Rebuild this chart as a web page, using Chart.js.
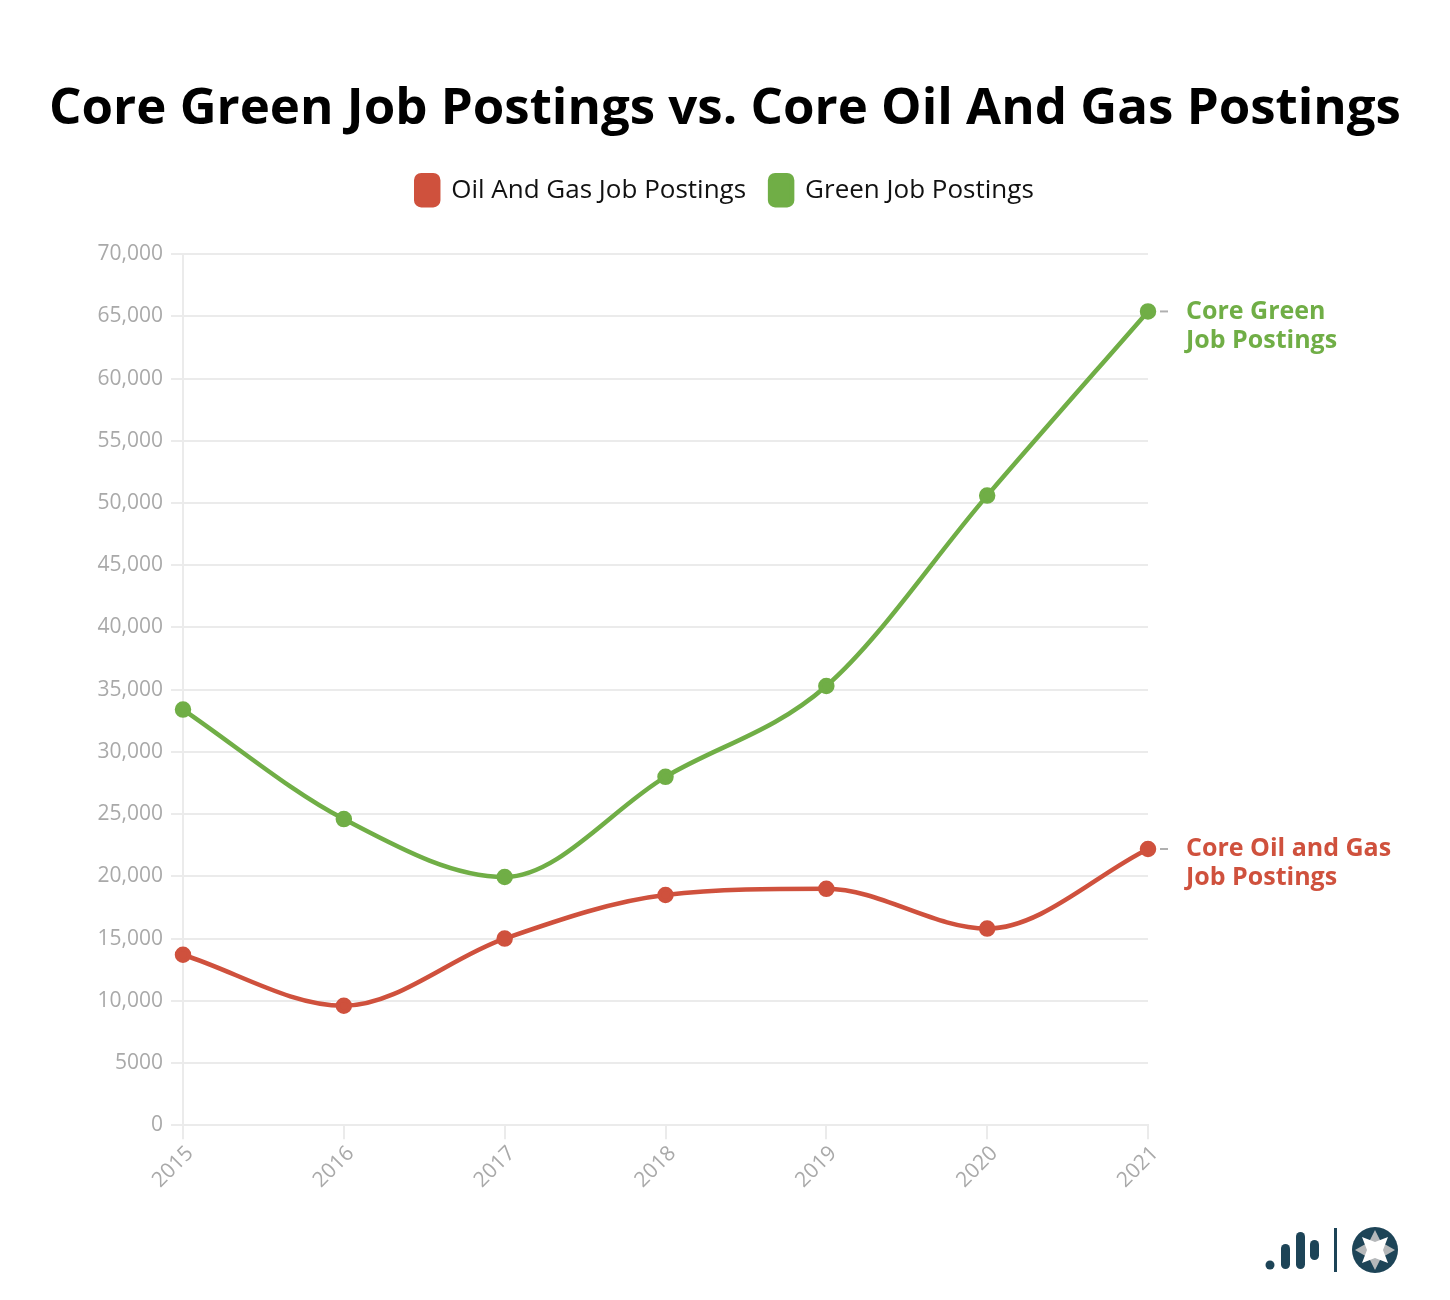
<!DOCTYPE html>
<html>
<head>
<meta charset="utf-8">
<script src="https://cdn.jsdelivr.net/npm/chart.js@4"></script>
<style>
  html, body { margin: 0; padding: 0; background: #fff; }
  #wrap { position: relative; width: 1450px; height: 1300px; }
  #logo { position: absolute; left: 1258px; top: 1222px; }
</style>
</head>
<body>
<div id="wrap">
  <canvas id="c" width="1450" height="1300"></canvas>
  <svg id="logo" width="150" height="60" viewBox="0 0 150 60">
    <circle cx="12" cy="43" r="4.5" fill="#1d4457"/>
    <rect x="23" y="22" width="9" height="25" rx="4.5" fill="#1d4457"/>
    <rect x="38" y="10" width="9" height="37" rx="4.5" fill="#1d4457"/>
    <rect x="52" y="18" width="9" height="20" rx="4.5" fill="#1d4457"/>
    <rect x="76" y="6" width="3" height="44" fill="#1d4457"/>
    <circle cx="117" cy="28" r="23" fill="#1d4457"/>
    <polygon points="117,8 123,20 137,28 123,36 117,48 111,36 97,28 111,20" fill="#b5b8ba"/>
    <polygon points="104,15 117,20 130,15 125,28 130,41 117,36 104,41 109,28" fill="#fff"/>
  </svg>
</div>
<script>
const years = ['2015', '2016', '2017', '2018', '2019', '2020', '2021'];
const oilGasPostings = [13700, 9600, 15000, 18500, 19000, 15800, 22200];
const greenPostings = [33400, 24600, 19950, 28000, 35300, 50600, 65400];
const seriesNames = ['Oil And Gas Job Postings', 'Green Job Postings'];
const endLabels = [['Core Oil and Gas', 'Job Postings'], ['Core Green', 'Job Postings']];
const yTicksMax = 70000;
const yTickStep = 5000;

const RED = '#cf513d';
const GREEN = '#70ae46';
const FONT = '"Open Sans", Lato, sans-serif';

const legendMargin = {
  id: 'legendMargin',
  beforeInit(chart) {
    const legend = chart.legend;
    if (!legend) return;
    const origFit = legend.fit;
    legend.fit = function () {
      origFit.bind(legend)();
      this.height += 39;
    };
  }
};

const endLabelPlugin = {
  id: 'endLabels',
  afterDatasetsDraw(chart) {
    const ctx = chart.ctx;
    chart.data.datasets.forEach((ds, i) => {
      const meta = chart.getDatasetMeta(i);
      const pt = meta.data[meta.data.length - 1];
      if (!pt) return;
      const x = pt.x, y = pt.y;
      ctx.save();
      ctx.strokeStyle = '#b0b0b0';
      ctx.lineWidth = 2;
      ctx.beginPath();
      ctx.moveTo(x + 12, y);
      ctx.lineTo(x + 20, y);
      ctx.stroke();
      ctx.fillStyle = ds.borderColor;
      ctx.font = 'bold 25px ' + FONT;
      ctx.textAlign = 'left';
      ctx.textBaseline = 'middle';
      endLabels[i].forEach((line, k) => {
        ctx.fillText(line, x + 38, y + k * 29);
      });
      ctx.restore();
    });
  }
};

new Chart(document.getElementById('c'), {
  type: 'line',
  data: {
    labels: years,
    datasets: [
      {
        label: seriesNames[0],
        data: oilGasPostings,
        borderColor: RED,
        backgroundColor: RED,
        borderWidth: 4.5,
        pointRadius: 6,
        pointHoverRadius: 6,
        cubicInterpolationMode: 'monotone',
        fill: false,
        yAxisID: 'y'
      },
      {
        label: seriesNames[1],
        data: greenPostings,
        borderColor: GREEN,
        backgroundColor: GREEN,
        borderWidth: 4.5,
        pointRadius: 6,
        pointHoverRadius: 6,
        cubicInterpolationMode: 'monotone',
        fill: false,
        yAxisID: 'y'
      }
    ]
  },
  options: {
    responsive: false,
    animation: false,
    devicePixelRatio: 1,
    layout: { padding: { left: 0, right: 0, top: 0, bottom: 105 } },
    plugins: {
      tooltip: { enabled: false },
      title: {
        display: true,
        text: 'Core Green Job Postings vs. Core Oil And Gas Postings',
        color: '#000',
        font: { family: FONT, size: 51, weight: 'bold' },
        padding: { top: 79, bottom: 11 }
      },
      legend: {
        display: true,
        position: 'top',
        labels: {
          color: '#111',
          font: { family: FONT, size: 26 },
          boxWidth: 22,
          boxHeight: 30,
          useBorderRadius: true,
          borderRadius: 5,
          padding: 24
        }
      }
    },
    scales: {
      x: {
        offset: false,
        grid: { color: '#ebebeb', lineWidth: 2, drawOnChartArea: false, drawTicks: true, tickLength: 14 },
        border: { color: '#ebebeb', width: 2 },
        ticks: {
          color: '#a9a9a9',
          font: { family: FONT, size: 21 },
          minRotation: 45,
          maxRotation: 45,
          padding: 2,
          labelOffset: 7
        }
      },
      y: {
        position: 'left',
        min: 0,
        max: yTicksMax,
        afterFit: s => { s.width = 183; },
        grid: { color: '#ebebeb', lineWidth: 2, tickLength: 12 },
        border: { color: '#ebebeb', width: 2 },
        ticks: {
          stepSize: yTickStep,
          color: '#a9a9a9',
          font: { family: FONT, size: 21 },
          padding: 8,
          callback: v => v < 10000 ? String(v) : v.toLocaleString('en-US')
        }
      },
      yRight: {
        position: 'right',
        display: true,
        min: 0,
        max: yTicksMax,
        afterFit: s => { s.width = 302; },
        grid: { display: false, drawTicks: false },
        border: { display: false },
        ticks: { display: false }
      }
    }
  },
  plugins: [legendMargin, endLabelPlugin]
});
</script>
</body>
</html>
